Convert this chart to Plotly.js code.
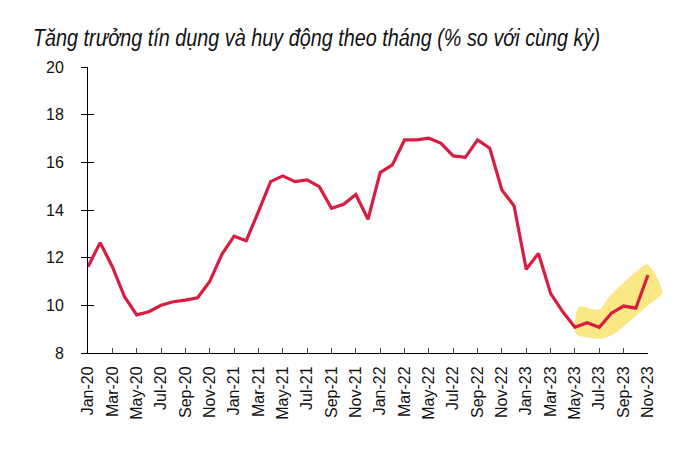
<!DOCTYPE html>
<html>
<head>
<meta charset="utf-8">
<script src="https://cdn.plot.ly/plotly-3.0.1.min.js"></script>
<style>html,body{margin:0;padding:0;background:#fff;}#chart{width:694px;height:458px;}</style>
</head>
<body>
<div id="chart"></div>
<script>
const months = [
  'Jan-20','Feb-20','Mar-20','Apr-20','May-20','Jun-20','Jul-20','Aug-20','Sep-20','Oct-20','Nov-20','Dec-20',
  'Jan-21','Feb-21','Mar-21','Apr-21','May-21','Jun-21','Jul-21','Aug-21','Sep-21','Oct-21','Nov-21','Dec-21',
  'Jan-22','Feb-22','Mar-22','Apr-22','May-22','Jun-22','Jul-22','Aug-22','Sep-22','Oct-22','Nov-22','Dec-22',
  'Jan-23','Feb-23','Mar-23','Apr-23','May-23','Jun-23','Jul-23','Aug-23','Sep-23','Oct-23','Nov-23'
];
const growth = [
  11.62, 12.63, 11.62, 10.36, 9.60, 9.73, 10.00, 10.15, 10.22, 10.32, 11.00, 12.14,
  12.90, 12.71, 13.93, 15.19, 15.43, 15.19, 15.26, 14.98, 14.07, 14.24, 14.65, 13.61,
  15.57, 15.89, 16.94, 16.94, 17.01, 16.80, 16.27, 16.21, 16.94, 16.59, 14.84, 14.17,
  11.51, 12.18, 10.50, 9.73, 9.08, 9.27, 9.08, 9.67, 9.97, 9.88, 11.27
];
// highlight band outline (month index, value)
const highlightX = [40.36, 41.51, 42.06, 42.88, 43.97, 45.07, 45.94, 47.13, 46.16, 45.34, 44.25, 43.15, 42.06, 40.96, 40.09, 40.36];
const highlightY = [9.92, 9.80, 9.83, 10.36, 10.92, 11.41, 11.69, 10.53, 10.09, 9.73, 9.25, 8.80, 8.62, 8.68, 8.83, 9.92];

const idx = months.map((m, i) => i);
const tickIdx = idx.filter(i => i % 2 === 0);
const tickText = tickIdx.map(i => months[i]);

const plotW = 694 - 88 - 14;
const mainW = 560;
const lastIdx = months.length - 1;

const traces = [
  {x: [], y: [], xaxis: 'x', yaxis: 'y', type: 'scatter', mode: 'lines', showlegend: false, hoverinfo: 'skip'},
  {x: [], y: [], xaxis: 'x', yaxis: 'y3', type: 'scatter', mode: 'lines', showlegend: false, hoverinfo: 'skip'},
  {x: highlightX, y: highlightY, xaxis: 'x2', yaxis: 'y2', type: 'scatter', mode: 'lines',
   fill: 'toself', fillcolor: '#FBE784', line: {color: '#FBE784', width: 1, shape: 'spline', smoothing: 0.8},
   showlegend: false, hoverinfo: 'skip'},
  {x: idx, y: growth, xaxis: 'x2', yaxis: 'y2', type: 'scatter', mode: 'lines',
   line: {color: '#D91C3F', width: 3.2}, showlegend: false}
];

const tickFont = {family: 'Liberation Sans, Arial, sans-serif', size: 16, color: '#111'};

const layout = {
  width: 694, height: 458,
  paper_bgcolor: '#fff', plot_bgcolor: 'rgba(0,0,0,0)',
  margin: {l: 88, r: 14, t: 67, b: 105},
  title: {
    text: '<i>Tăng trưởng tín dụng và huy động theo tháng (% so với cùng kỳ)</i>',
    font: {family: 'Liberation Sans, Arial, sans-serif', size: 20, color: '#111'},
    xref: 'container', yref: 'container', x: 33/694, xanchor: 'left', y: 1 - 31/458, yanchor: 'middle'
  },
  xaxis: {
    domain: [0, mainW / plotW], range: [0, lastIdx], type: 'linear',
    tickmode: 'array', tickvals: tickIdx, ticktext: tickText, tickangle: -90,
    ticks: 'inside', ticklen: 5, tickcolor: '#444', tickwidth: 1,
    showline: true, linecolor: '#000', linewidth: 1, showgrid: false, zeroline: false,
    tickfont: tickFont, anchor: 'y', ticklabelstandoff: 6
  },
  yaxis: {
    domain: [0, 1], range: [8, 20], dtick: 2, tick0: 8,
    ticks: 'outside', ticklen: 6, tickcolor: '#000', tickwidth: 1,
    showline: true, linecolor: '#000', linewidth: 1, showgrid: false, zeroline: false,
    tickfont: tickFont, anchor: 'x', ticklabelstandoff: 14
  },
  yaxis3: {
    overlaying: 'y', range: [8, 20], dtick: 2, tick0: 8,
    ticks: 'inside', ticklen: 6, tickcolor: '#000', tickwidth: 1,
    showticklabels: false, showline: false, showgrid: false, zeroline: false, anchor: 'x'
  },
  xaxis2: {domain: [0, 1], range: [0, lastIdx * plotW / mainW], visible: false, anchor: 'y2'},
  yaxis2: {domain: [0, 1], range: [8, 20], visible: false, anchor: 'x2'}
};

Plotly.newPlot('chart', traces, layout, {displayModeBar: false, staticPlot: true}).then(function (gd) {
  // narrow, tall title like the reference's condensed italic face
  const t = gd.querySelector('.gtitle');
  if (t) {
    const y = parseFloat(t.getAttribute('y')) || 0;
    t.setAttribute('textLength', '567');
    t.setAttribute('lengthAdjust', 'spacingAndGlyphs');
    t.setAttribute('transform', 'translate(0,' + (y + 6) + ') scale(1,1.22) translate(0,' + (-y) + ')');
  }
});
</script>
</body>
</html>
